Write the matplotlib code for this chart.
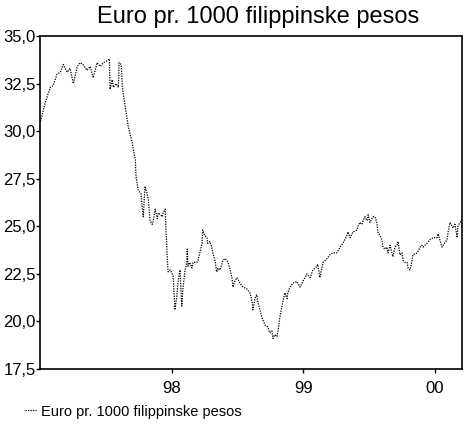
import pandas as pd
import matplotlib
matplotlib.use('Agg')
import matplotlib.pyplot as plt

plt.rcParams['font.family'] = ['Liberation Sans', 'DejaVu Sans']

# Data
dates = [
    '1997-01-02', '1997-01-15', '1997-01-29', '1997-02-06', '1997-02-17', '1997-02-26',
    '1997-03-06', '1997-03-17', '1997-03-25', '1997-04-03', '1997-04-14', '1997-04-22',
    '1997-04-30', '1997-05-11', '1997-05-20', '1997-05-28', '1997-06-08', '1997-06-17',
    '1997-06-25', '1997-07-06', '1997-07-12', '1997-07-14', '1997-07-20', '1997-07-23',
    '1997-07-31', '1997-08-06', '1997-08-08', '1997-08-14', '1997-08-17', '1997-08-25',
    '1997-09-02', '1997-09-13', '1997-09-22', '1997-09-24', '1997-09-30', '1997-10-08',
    '1997-10-11', '1997-10-14', '1997-10-19', '1997-10-25', '1997-10-28', '1997-11-02',
    '1997-11-08', '1997-11-11', '1997-11-16', '1997-11-22', '1997-11-25', '1997-12-06',
    '1997-12-08', '1997-12-14', '1997-12-16', '1997-12-20', '1997-12-22', '1997-12-28',
    '1998-01-05', '1998-01-10', '1998-01-15', '1998-01-18', '1998-01-24', '1998-01-29',
    '1998-02-01', '1998-02-07', '1998-02-12', '1998-02-13', '1998-02-15', '1998-02-20',
    '1998-02-26', '1998-03-01', '1998-03-06', '1998-03-12', '1998-03-15', '1998-03-20',
    '1998-03-26', '1998-03-28', '1998-04-03', '1998-04-09', '1998-04-11', '1998-04-17',
    '1998-04-22', '1998-04-25', '1998-05-01', '1998-05-06', '1998-05-09', '1998-05-15',
    '1998-05-20', '1998-05-23', '1998-05-29', '1998-06-03', '1998-06-06', '1998-06-11',
    '1998-06-17', '1998-06-20', '1998-06-25', '1998-07-01', '1998-07-04', '1998-07-09',
    '1998-07-18', '1998-07-29', '1998-08-06', '1998-08-12', '1998-08-14', '1998-08-20',
    '1998-08-25', '1998-08-28', '1998-09-03', '1998-09-08', '1998-09-17', '1998-09-25',
    '1998-09-30', '1998-10-06', '1998-10-09', '1998-10-14', '1998-10-20', '1998-10-23',
    '1998-10-28', '1998-11-03', '1998-11-06', '1998-11-11', '1998-11-17', '1998-11-19',
    '1998-11-25', '1998-12-03', '1998-12-14', '1998-12-23', '1998-12-31', '1999-01-06',
    '1999-01-11', '1999-01-20', '1999-01-28', '1999-02-08', '1999-02-10', '1999-02-16',
    '1999-02-25', '1999-03-08', '1999-03-16', '1999-03-24', '1999-04-04', '1999-04-13',
    '1999-04-21', '1999-05-02', '1999-05-05', '1999-05-11', '1999-05-19', '1999-05-30',
    '1999-06-02', '1999-06-07', '1999-06-13', '1999-06-16', '1999-06-21', '1999-06-27',
    '1999-06-30', '1999-07-05', '1999-07-13', '1999-07-19', '1999-07-24', '1999-07-27',
    '1999-08-07', '1999-08-10', '1999-08-16', '1999-08-21', '1999-08-24', '1999-08-30',
    '1999-09-04', '1999-09-07', '1999-09-12', '1999-09-18', '1999-09-21', '1999-09-26',
    '1999-10-02', '1999-10-05', '1999-10-10', '1999-10-16', '1999-10-19', '1999-10-24',
    '1999-10-30', '1999-11-01', '1999-11-13', '1999-11-21', '1999-11-26', '1999-11-29',
    '1999-12-10', '1999-12-19', '1999-12-27', '2000-01-07', '2000-01-10', '2000-01-21',
    '2000-01-24', '2000-02-04', '2000-02-07', '2000-02-12', '2000-02-18', '2000-02-20',
    '2000-02-26', '2000-03-03', '2000-03-05', '2000-03-11', '2000-03-16',
]
euro_per_1000_php = [
    30.5, 31.5, 32.3, 32.4, 33.0, 33.1,
    33.5, 33.1, 33.3, 32.5, 33.4, 33.6,
    33.5, 33.2, 33.4, 32.8, 33.6, 33.4,
    33.6, 33.7, 33.8, 32.2, 32.7, 32.3,
    32.5, 32.3, 33.6, 33.5, 32.3, 31.3,
    30.3, 29.4, 28.5, 27.6, 26.9, 26.7,
    26.0, 25.5, 27.1, 26.7, 26.4, 25.3,
    25.1, 25.3, 25.9, 25.4, 25.7, 25.5,
    25.7, 25.9, 24.8, 23.2, 22.6, 22.7,
    22.4, 20.6, 21.3, 22.0, 22.7, 20.8,
    21.7, 22.7, 23.1, 23.8, 22.9, 23.1,
    22.8, 23.1, 23.1, 23.1, 23.2, 23.6,
    24.1, 24.8, 24.5, 24.4, 24.1, 24.2,
    23.9, 23.6, 23.2, 22.6, 22.8, 22.7,
    23.0, 23.2, 23.3, 23.2, 23.1, 22.8,
    22.3, 21.8, 22.1, 22.3, 22.2, 22.0,
    21.8, 21.7, 21.5, 21.0, 20.6, 21.2,
    21.4, 21.0, 20.6, 20.2, 19.8, 19.7,
    19.4, 19.5, 19.1, 19.3, 19.2, 19.5,
    20.2, 20.8, 21.1, 21.5, 21.2, 21.5,
    21.8, 22.0, 22.1, 21.8, 22.1, 22.3,
    22.5, 22.3, 22.7, 22.9, 23.0, 22.3,
    23.1, 23.3, 23.5, 23.6, 23.6, 23.9,
    24.1, 24.5, 24.7, 24.4, 24.7, 24.8,
    25.0, 25.2, 25.1, 25.3, 25.5, 25.3,
    25.6, 25.2, 25.5, 25.5, 25.2, 24.7,
    24.3, 23.9, 23.8, 23.9, 23.6, 24.0,
    23.6, 23.4, 23.9, 24.0, 24.2, 23.5,
    23.6, 23.2, 23.1, 23.1, 22.8, 22.7,
    23.2, 23.5, 23.6, 23.9, 24.0, 23.9,
    24.1, 24.3, 24.4, 24.4, 24.6, 23.9,
    24.0, 24.3, 24.7, 25.2, 25.0, 24.9,
    25.1, 24.4, 25.0, 25.2, 25.3,
]
series_label = 'Euro pr. 1000 filippinske pesos'
y_ticks = [17.5, 20.0, 22.5, 25.0, 27.5, 30.0, 32.5, 35.0]
y_tick_labels = ['17,5', '20,0', '22,5', '25,0', '27,5', '30,0', '32,5', '35,0']
x_ticks = ['1998-01-01', '1999-01-01', '2000-01-01']
x_tick_labels = ['98', '99', '00']

df = pd.DataFrame({'Date': pd.to_datetime(dates), 'Value': euro_per_1000_php})

fig = plt.figure(figsize=(4.67, 4.24), dpi=100)
ax = fig.add_axes([0.086, 0.13, 0.903, 0.785])

ax.plot(df['Date'], df['Value'], color='black', linewidth=0.9,
        linestyle=(0, (1, 1)), label=series_label)

ax.set_xlim(pd.Timestamp('1997-01-01'), pd.Timestamp('2000-03-16'))
ax.set_ylim(17.5, 35.0)
ax.set_yticks(y_ticks)
ax.set_yticklabels(y_tick_labels)
ax.set_xticks(pd.to_datetime(x_ticks))
ax.set_xticklabels(x_tick_labels)
ax.tick_params(axis='y', direction='out', length=3, width=1,
               labelsize=12, pad=0, colors='black')
ax.tick_params(axis='x', direction='out', length=3, width=1,
               labelsize=12, pad=6, colors='black')
for s in ax.spines.values():
    s.set_linewidth(1.2)

fig.suptitle(series_label, x=0.553, y=0.985, fontsize=17, va='top')

fig.legend(loc='lower left', bbox_to_anchor=(0.025, -0.018), frameon=False,
           fontsize=10.5, handlelength=0.8, handletextpad=0.3)

fig.savefig('out.png', dpi=100)
